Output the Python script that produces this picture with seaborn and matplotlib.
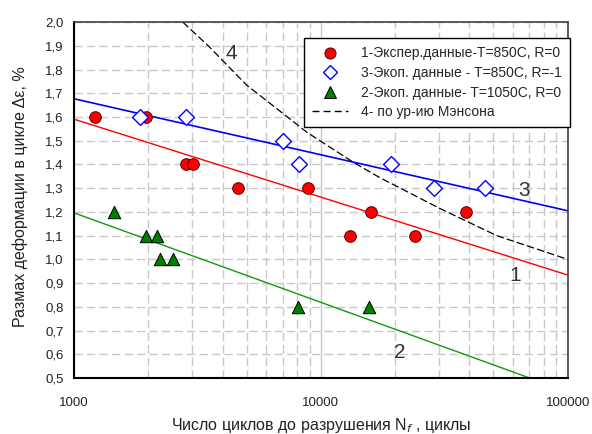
import numpy as np
import pandas as pd
import matplotlib
matplotlib.use('Agg')
import matplotlib.pyplot as plt
from matplotlib.lines import Line2D
from matplotlib.ticker import FixedLocator, NullFormatter
import seaborn as sns

n_850_r0 = [1220, 1950, 2840, 3030, 4600, 8850, 13100, 15900, 24000, 38600]
eps_850_r0 = [1.6, 1.6, 1.4, 1.4, 1.3, 1.3, 1.1, 1.2, 1.1, 1.2]

n_850_rm1 = [1850, 2840, 7000, 8150, 19200, 28600, 46100]
eps_850_rm1 = [1.6, 1.6, 1.5, 1.4, 1.4, 1.3, 1.3]

n_1050_r0 = [1450, 1950, 2170, 2230, 2510, 8070, 15600]
eps_1050_r0 = [1.2, 1.1, 1.1, 1.0, 1.0, 0.8, 0.8]

# fitted lines (end points)
fit_n = [1000, 100000]
fit_1 = [1.591, 0.934]
fit_3 = [1.677, 1.205]
fit_2 = [1.196, 0.442]

# Manson equation curve
manson_n = [2760, 3500, 5000, 8800, 13500, 17300, 30300, 51600, 100000]
manson_eps = [2.0, 1.90, 1.735, 1.535, 1.41, 1.345, 1.215, 1.10, 1.0]

legend_labels = ['1-Экспер.данные-Т=850С, R=0',
                 '3-Экоп. данные - Т=850С, R=-1',
                 '2-Экоп. данные- Т=1050С, R=0',
                 '4- по ур-ию Мэнсона']

sns.set_style('white')
plt.rcParams['font.family'] = ['Liberation Sans', 'DejaVu Sans']

fig = plt.figure(figsize=(5.92, 4.34), dpi=100)
ax = fig.add_axes([0.125, 0.129, 0.834, 0.820])

dash = (0, (6, 3))
ax.set_xscale('log')
ax.set_xlim(1000, 100000)
ax.set_ylim(0.5, 2.0)
ax.set_yticks(np.arange(0.5, 2.01, 0.1))
ax.set_yticklabels([f'{v:.1f}'.replace('.', ',') for v in np.arange(0.5, 2.01, 0.1)])
ax.set_xticks([1000, 10000, 100000])
ax.set_xticklabels(['1000', '10000', '100000'])
ax.xaxis.set_minor_locator(FixedLocator([m * d for d in (1000, 10000) for m in range(2, 10)]))
ax.xaxis.set_minor_formatter(NullFormatter())

ax.grid(which='major', axis='y', color='#c8c8c8', lw=1.0, ls=dash, zorder=0)
ax.grid(which='minor', axis='x', color='#c8c8c8', lw=1.0, ls=dash, zorder=0)
ax.grid(which='major', axis='x', color='#c8c8c8', lw=1.0, zorder=0)
ax.set_axisbelow(True)

sns.lineplot(x=fit_n, y=fit_1, color='red', lw=1.0, ax=ax)
sns.lineplot(x=fit_n, y=fit_3, color='blue', lw=1.2, ax=ax)
sns.lineplot(x=fit_n, y=fit_2, color='#119911', lw=1.0, ax=ax)
ax.plot(manson_n, manson_eps, color='black', lw=0.9, ls=(0, (6, 2.5)))

sns.scatterplot(x=n_850_r0, y=eps_850_r0, marker='o', s=70, color='red',
                edgecolor='#550000', linewidth=0.7, ax=ax, zorder=5)
sns.scatterplot(x=n_850_rm1, y=eps_850_rm1, marker='D', s=65, facecolor='white',
                edgecolor='blue', linewidth=1.0, ax=ax, zorder=5)
sns.scatterplot(x=n_1050_r0, y=eps_1050_r0, marker='^', s=80, color='green',
                edgecolor='black', linewidth=0.7, ax=ax, zorder=5)

for s in ('left', 'bottom'):
    ax.spines[s].set_color('black')
    ax.spines[s].set_linewidth(1.5)
for s in ('top', 'right'):
    ax.spines[s].set_color('#404040')
    ax.spines[s].set_linewidth(1.2)

ax.tick_params(axis='both', which='both', direction='out', color='black', labelsize=9.5, labelcolor='#222222')
ax.tick_params(axis='y', which='major', length=4, width=1.2)
ax.tick_params(axis='x', which='major', length=4, width=1.2, pad=10)
ax.tick_params(axis='x', which='minor', length=4, width=1.0)
ax.tick_params(top=False, right=False)

ax.set_ylabel('Размах деформации в цикле Δε, %', fontsize=11.5, color='#222222')
ax.yaxis.set_label_coords(-0.093, 0.51)
ax.set_xlabel('Число циклов до разрушения N$_f$ , циклы', fontsize=11.5, color='#222222')
ax.xaxis.set_label_coords(0.5, -0.108)

for txt, xx, yy in (('4', 4320, 1.869), ('3', 66400, 1.292), ('1', 61500, 0.934), ('2', 20900, 0.609)):
    ax.text(xx, yy, txt, fontsize=15, color='#333333', ha='center', va='center')

handles = [
    Line2D([], [], ls='none', marker='o', ms=8, mfc='red', mec='#550000', mew=0.7),
    Line2D([], [], ls='none', marker='D', ms=7.5, mfc='white', mec='blue', mew=1.0),
    Line2D([], [], ls='none', marker='^', ms=8.5, mfc='green', mec='black', mew=0.7),
    Line2D([], [], color='black', lw=1.0, ls=(0, (5, 3))),
]
leg = ax.legend(handles, legend_labels, loc='upper right', bbox_to_anchor=(1.004, 0.955),
                borderaxespad=0, fontsize=10, frameon=True, fancybox=False, framealpha=1,
                edgecolor='black', handlelength=2.6, handletextpad=0.9,
                labelspacing=0.4, borderpad=0.6)
leg.get_frame().set_linewidth(1.0)

fig.savefig('out.png', dpi=100)
